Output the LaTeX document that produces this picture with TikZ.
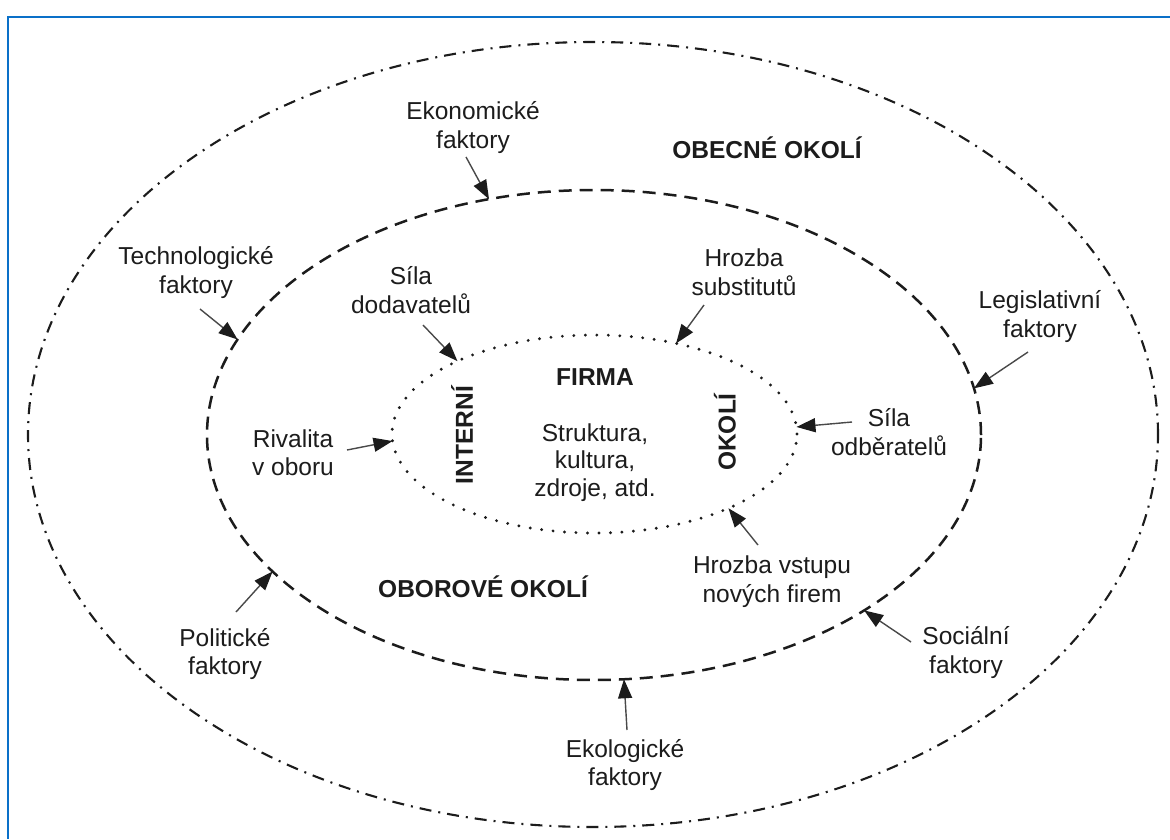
\documentclass[tikz,border=0pt]{standalone}
\usepackage{fontspec}
\setmainfont{Liberation Sans}
\usetikzlibrary{shapes.geometric,arrows.meta}
\definecolor{framebl}{RGB}{10,112,200}
\definecolor{ink}{RGB}{28,28,28}
\begin{document}
\begin{tikzpicture}[x=1pt,y=-1pt,
  font=\fontsize{24.5}{28.5}\selectfont,
  ring/.style={ellipse, draw=ink, inner sep=0pt, outer sep=0pt},
  outerring/.style={ring, line width=2.1pt, dash pattern=on 12pt off 7pt on 2pt off 7pt},
  midring/.style={ring, line width=2.5pt, dash pattern=on 13pt off 8pt},
  innerring/.style={ring, line width=3.2pt, line cap=round, dash pattern=on 0pt off 11.5pt},
  lbl/.style={align=center, text=ink, inner sep=0pt},
  blbl/.style={lbl, font=\fontsize{24.5}{28.5}\selectfont\bfseries},
  arr/.style={draw=ink!80, line width=1.4pt, -{Triangle[length=19pt,width=14pt,color=ink]}}]
\useasboundingbox (0,0) rectangle (1170,839);
\fill[white] (0,0) rectangle (1170,839);
% frame
\draw[framebl, line width=2.5pt] (1170,17) -- (8,17) -- (8,839);
% rings
\node[outerring, minimum width=1130pt, minimum height=785pt] (outer) at (593,434.5) {};
\node[midring, minimum width=774pt, minimum height=490pt] (mid) at (594,435) {};
\node[innerring, minimum width=405pt, minimum height=198pt] (inner) at (594.5,434) {};
% labels
\node[lbl] (eko) at (473,127.5) {Ekonomické\\faktory};
\node[blbl] (obecne) at (767,148) {OBECNÉ OKOLÍ};
\node[lbl] (tech) at (196,272.5) {Technologické\\faktory};
\node[lbl] (dod) at (411,290) {Síla\\dodavatelů};
\node[lbl] (subst) at (744,272) {Hrozba\\substitutů};
\node[lbl] (legis) at (1040,316.5) {Legislativní\\faktory};
\node[blbl] (firma) at (595,377) {FIRMA};
\node[blbl, rotate=90] (interni) at (462,435) {INTERNÍ};
\node[blbl, rotate=90] (okoli) at (725,432) {OKOLÍ};
\node[lbl, font=\fontsize{24.5}{27.5}\selectfont] (strukt) at (595,462.5) {Struktura,\\kultura,\\zdroje, atd.};
\node[lbl] (odb) at (889,432) {Síla\\odběratelů};
\node[lbl] (rival) at (293,452.5) {Rivalita\\v oboru};
\node[blbl] (oborove) at (483,587) {OBOROVÉ OKOLÍ};
\node[lbl] (vstup) at (772,581.5) {Hrozba vstupu\\nových firem};
\node[lbl] (polit) at (225,654) {Politické\\faktory};
\node[lbl] (social) at (966,652.5) {Sociální\\faktory};
\node[lbl] (ekol) at (625,765) {Ekologické\\faktory};
% arrow tails
\coordinate (tEko) at (466,157);
\coordinate (tTech) at (200,309);
\coordinate (tDod) at (423,325);
\coordinate (tSubst) at (704,305);
\coordinate (tLegis) at (1028,352);
\coordinate (tOdb) at (852,422);
\coordinate (tRival) at (347,450);
\coordinate (tVstup) at (758,545);
\coordinate (tPolit) at (236,612);
\coordinate (tSocial) at (911,642);
\coordinate (tEkol) at (627,730);
% arrows
\draw[arr] (tEko) -- (mid.114.6);
\draw[arr] (tTech) -- (mid.165.1);
\draw[arr] (tLegis) -- (mid.7.0);
\draw[arr] (tPolit) -- (mid.203.8);
\draw[arr] (tSocial) -- (mid.327.5);
\draw[arr] (tEkol) -- (mid.277.2);
\draw[arr] (tDod) -- (inner.152.0);
\draw[arr] (tSubst) -- (inner.48.9);
\draw[arr] (tOdb) -- (inner.2.8);
\draw[arr] (tRival) -- (inner.182.6);
\draw[arr] (tVstup) -- (inner.331.9);
\end{tikzpicture}
\end{document}
